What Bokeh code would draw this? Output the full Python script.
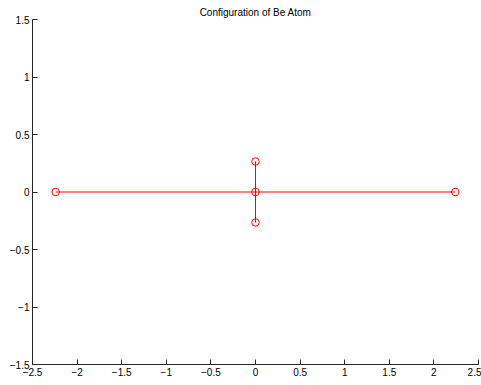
from bokeh.plotting import figure
from bokeh.models import Range1d, FixedTicker
from bokeh.embed import file_html
from bokeh.resources import INLINE

# data
center_x = 0.0
center_y = 0.0
end_x = [-2.24, 2.24, 0.0, 0.0]
end_y = [0.0, 0.0, 0.265, -0.265]
marker_x = [-2.24, 0.0, 2.24, 0.0, 0.0]
marker_y = [0.0, 0.0, 0.0, 0.265, -0.265]
x_ticks = [-2.5, -2, -1.5, -1, -0.5, 0, 0.5, 1, 1.5, 2, 2.5]
x_labels = ["−2.5", "−2", "−1.5", "−1", "−0.5", "0", "0.5", "1", "1.5", "2", "2.5"]
y_ticks = [-1.5, -1, -0.5, 0, 0.5, 1, 1.5]
y_labels = ["−1.5", "−1", "−0.5", "0", "0.5", "1", "1.5"]
title = "Configuration of Be Atom"

FONT = "Liberation Sans"

p = figure(width=481, height=385, output_backend="svg", toolbar_location=None,
           x_range=Range1d(-2.5, 2.5), y_range=Range1d(-1.5, 1.5),
           title=title, min_border_left=32, min_border_right=3,
           min_border_top=19, min_border_bottom=21)
p.outline_line_color = None
p.background_fill_color = "white"
p.border_fill_color = "white"
p.xgrid.visible = False
p.ygrid.visible = False

p.title.align = "center"
p.title.text_font = FONT
p.title.text_font_size = "10px"
p.title.text_font_style = "normal"
p.title.text_color = "black"
p.title.standoff = 4

for ax, ticks, labels in ((p.xaxis[0], x_ticks, x_labels), (p.yaxis[0], y_ticks, y_labels)):
    ax.ticker = FixedTicker(ticks=ticks)
    ax.major_label_overrides = {t: l for t, l in zip(ticks, labels)}
    ax.major_tick_in = 5
    ax.major_tick_out = 0
    ax.minor_tick_in = 0
    ax.minor_tick_out = 0
    ax.axis_line_color = "#262626"
    ax.major_tick_line_color = "#262626"
    ax.major_label_text_font = FONT
    ax.major_label_text_font_size = "10px"
    ax.major_label_text_color = "black"
    ax.major_label_standoff = 3

xs = [[center_x, ex] for ex in end_x]
ys = [[center_y, ey] for ey in end_y]
p.multi_line(xs, ys, line_color="red", line_width=1)
p.scatter(marker_x, marker_y, marker="circle", size=7.5, fill_color=None,
          line_color="red", line_width=1)

open("out.html", "w").write(file_html(p, INLINE))
